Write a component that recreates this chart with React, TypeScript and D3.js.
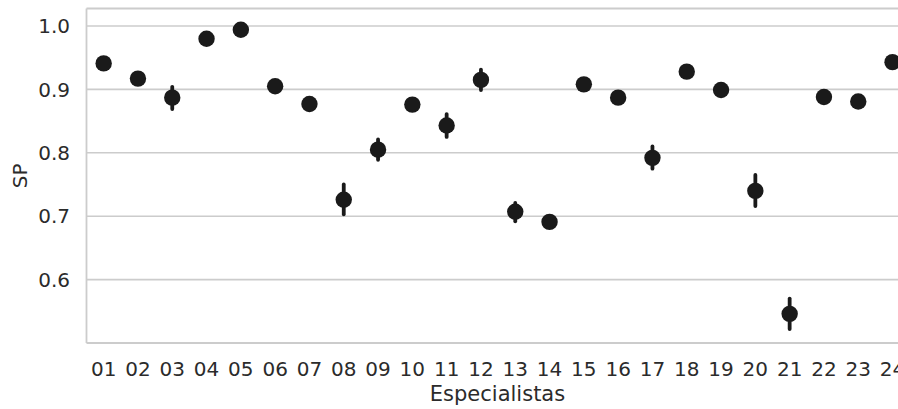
import React from "react";
import * as d3 from "d3";

const categories = ["01","02","03","04","05","06","07","08","09","10","11","12","13","14","15","16","17","18","19","20","21","22","23","24"];
const meanValues = [0.941,0.917,0.887,0.980,0.994,0.905,0.877,0.726,0.805,0.876,0.843,0.915,0.707,0.691,0.908,0.887,0.792,0.928,0.899,0.740,0.546,0.888,0.881,0.943];
const lowerValues = [0.939,0.915,0.869,0.978,0.992,0.903,0.875,0.703,0.789,0.874,0.825,0.899,0.692,0.686,0.905,0.885,0.775,0.926,0.897,0.716,0.522,0.886,0.879,0.941];
const upperValues = [0.943,0.919,0.904,0.982,0.996,0.907,0.879,0.750,0.821,0.878,0.861,0.931,0.721,0.696,0.911,0.889,0.810,0.930,0.901,0.765,0.570,0.890,0.883,0.945];
const yTicks = [0.6, 0.7, 0.8, 0.9, 1.0];

const W = 898;
const H = 409;
const left = 86.5;
const top = 8.5;
const bottom = 343;
const rightFull = left + 24 * 34.3;

export default function App() {
  const x = d3.scalePoint<string>().domain(categories).range([left, rightFull]).padding(0.5);
  const y = d3.scaleLinear().domain([0.5, 1.0276]).range([bottom, top]);
  const grid = "#cccccc";
  const text = "#2b2b2b";
  const mark = "#1a1a1a";
  const font = "DejaVu Sans, sans-serif";
  return (
    <svg width={W} height={H} style={{ position: "absolute", left: 0, top: 0, background: "#fff" }}>
      {yTicks.map((t) => (
        <line key={"g" + t} x1={left} x2={W} y1={y(t)} y2={y(t)} stroke={grid} strokeWidth={1.6} />
      ))}
      <line x1={left} x2={W} y1={top} y2={top} stroke={grid} strokeWidth={1.8} />
      <line x1={left} x2={W} y1={bottom} y2={bottom} stroke={grid} strokeWidth={1.8} />
      <line x1={left} x2={left} y1={top} y2={bottom} stroke={grid} strokeWidth={1.8} />
      {yTicks.map((t) => (
        <text key={"t" + t} x={70} y={y(t)} dy="0.36em" textAnchor="end" fontFamily={font} fontSize={20} fill={text}>
          {t.toFixed(1)}
        </text>
      ))}
      {categories.map((c) => (
        <text key={"x" + c} x={x(c)} y={376} textAnchor="middle" fontFamily={font} fontSize={20} fill={text}>
          {c}
        </text>
      ))}
      <text x={497.5} y={401} textAnchor="middle" fontFamily={font} fontSize={21} fill={text}>
        Especialistas
      </text>
      <text transform={`translate(27,${(top + bottom) / 2}) rotate(-90)`} textAnchor="middle" fontFamily={font} fontSize={20} fill={text}>
        SP
      </text>
      {categories.map((c, i) => (
        <g key={"p" + c}>
          <line x1={x(c)} x2={x(c)} y1={y(lowerValues[i])} y2={y(upperValues[i])} stroke={mark} strokeWidth={3.8} strokeLinecap="round" />
          <circle cx={x(c)} cy={y(meanValues[i])} r={8.2} fill={mark} />
        </g>
      ))}
    </svg>
  );
}
